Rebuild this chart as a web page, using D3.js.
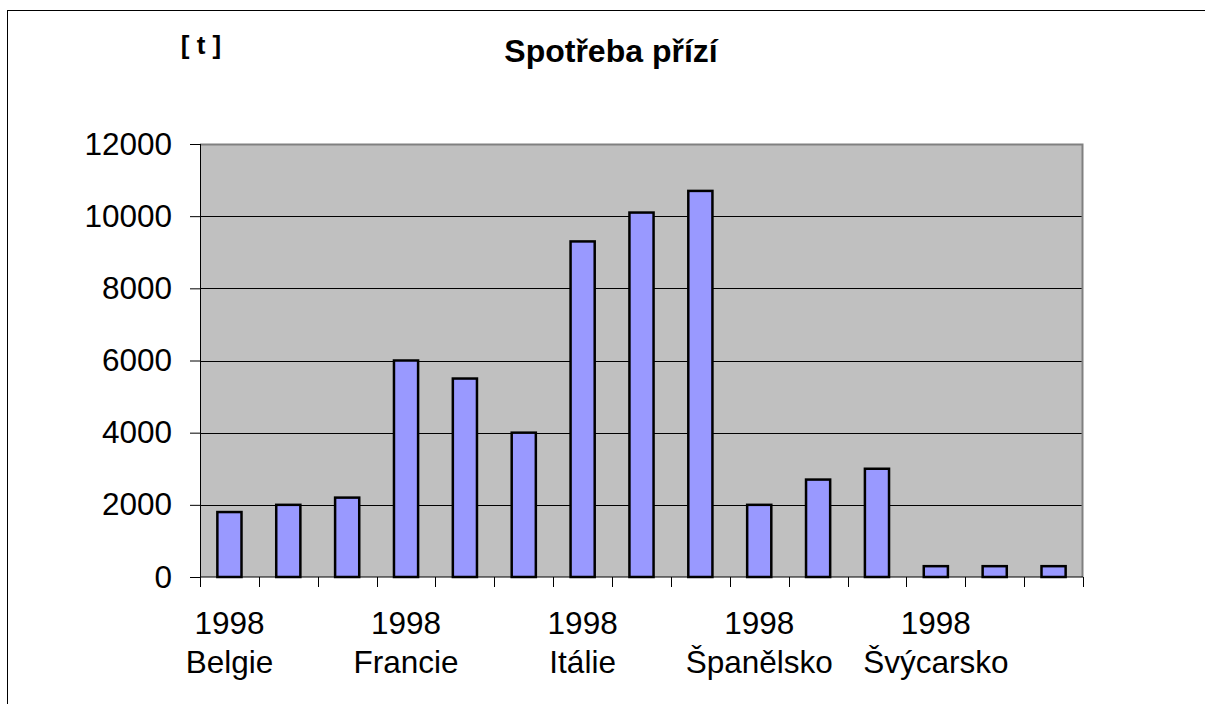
<!DOCTYPE html>
<html>
<head>
<meta charset="utf-8">
<script src="https://cdn.jsdelivr.net/npm/d3@7"></script>
<style>
  body { margin: 0; background: #fff; }
  text { font-family: "Liberation Sans", Arial, sans-serif; }
</style>
</head>
<body>
<div class="chart"></div>
<script>
var svgWidth = 1205;
var svgHeight = 704;

// data
var countries = ["Belgie", "Francie", "Itálie", "Španělsko", "Švýcarsko"];
var years = ["1998", "1999", "2000"];
var values = [1800, 2000, 2200, 6000, 5500, 4000, 9300, 10100, 10700, 2000, 2700, 3000, 300, 300, 300];
var yTicks = [0, 2000, 4000, 6000, 8000, 10000, 12000];

var categories = [];
countries.forEach(function(c) {
  years.forEach(function(y) { categories.push(y + " " + c); });
});

var margin = { top: 144, right: 122, bottom: 127, left: 200 };
var width = svgWidth - margin.left - margin.right;
var height = svgHeight - margin.top - margin.bottom;

var svg = d3.select(".chart")
  .append("svg")
    .attr("width", svgWidth)
    .attr("height", svgHeight);

// outer frame
svg.append("rect")
  .attr("x", 7.5).attr("y", 10.5)
  .attr("width", svgWidth).attr("height", svgHeight)
  .attr("fill", "none").attr("stroke", "#000");

var chart = svg.append("g")
  .attr("transform", "translate(" + margin.left + "," + margin.top + ")");

var xScale = d3.scaleBand()
  .domain(categories)
  .range([0, width])
  .paddingInner(0.59)
  .paddingOuter(0.295);

var yScale = d3.scaleLinear()
  .domain([0, 12000])
  .range([height, 0]);

// plot background
chart.append("rect")
  .attr("width", width).attr("height", height)
  .attr("fill", "#c0c0c0");

// gridlines
chart.selectAll(".grid")
  .data(yTicks.slice(1, -1))
  .enter().append("line")
    .attr("x1", 0).attr("x2", width)
    .attr("y1", function(d) { return Math.round(yScale(d)) + 0.5; })
    .attr("y2", function(d) { return Math.round(yScale(d)) + 0.5; })
    .attr("stroke", "#000");

// top and right border
chart.append("path")
  .attr("d", "M0,0.5H" + (width - 0.5) + "V" + height)
  .attr("fill", "none")
  .attr("stroke", "#808080")
  .attr("stroke-width", 2);

// bars
chart.selectAll(".bar")
  .data(values)
  .enter().append("rect")
    .attr("x", function(d, i) { return xScale(categories[i]); })
    .attr("y", function(d) { return yScale(d); })
    .attr("width", xScale.bandwidth())
    .attr("height", function(d) { return height - yScale(d); })
    .attr("fill", "#9999ff")
    .attr("stroke", "#000")
    .attr("stroke-width", 2.5);

// y axis
var leftAxis = d3.axisLeft(yScale)
  .tickValues(yTicks)
  .tickSize(10)
  .tickPadding(18)
  .tickFormat(d3.format("d"));

var yAxis = chart.append("g").call(leftAxis);
yAxis.attr("font-family", null).attr("font-size", null);
yAxis.selectAll("text").attr("font-size", 31.5).attr("fill", "#000");
yAxis.select(".domain").remove();

// x axis with ticks at each category boundary
var step = width / categories.length;
var boundaries = d3.range(categories.length + 1).map(function(i) { return i * step; });
var xAxis = chart.append("g").attr("transform", "translate(0," + height + ")");
xAxis.append("line")
  .attr("x1", 0).attr("x2", width)
  .attr("stroke", "#000");
xAxis.selectAll(".xt")
  .data(boundaries)
  .enter().append("line")
    .attr("x1", function(d) { return Math.round(d) + 0.5; })
    .attr("x2", function(d) { return Math.round(d) + 0.5; })
    .attr("y1", 0).attr("y2", 10)
    .attr("stroke", "#000");

// category labels: only the first bar of each country
var labelled = categories.filter(function(c, i) { return i % years.length === 0; });
var labels = xAxis.selectAll(".xl")
  .data(labelled)
  .enter().append("text")
    .attr("text-anchor", "middle")
    .attr("font-size", 31.5)
    .attr("x", function(d) { return xScale(d) + xScale.bandwidth() / 2; });
labels.append("tspan")
  .attr("y", 57)
  .attr("x", function(d) { return xScale(d) + xScale.bandwidth() / 2; })
  .text(function(d) { return d.split(" ")[0]; });
labels.append("tspan")
  .attr("y", 96)
  .attr("x", function(d) { return xScale(d) + xScale.bandwidth() / 2; })
  .text(function(d) { return d.split(" ").slice(1).join(" "); });

// y axis line (dark)
chart.append("line")
  .attr("x1", 0.5).attr("x2", 0.5)
  .attr("y1", 0).attr("y2", height)
  .attr("stroke", "#000");

// title and unit
svg.append("text")
  .attr("x", 611).attr("y", 62)
  .attr("text-anchor", "middle")
  .attr("font-size", 32)
  .attr("font-weight", "bold")
  .text("Spotřeba přízí");

svg.append("text")
  .attr("x", 201).attr("y", 54)
  .attr("text-anchor", "middle")
  .attr("font-size", 26)
  .attr("font-weight", "bold")
  .text("[ t ]");
</script>
</body>
</html>
